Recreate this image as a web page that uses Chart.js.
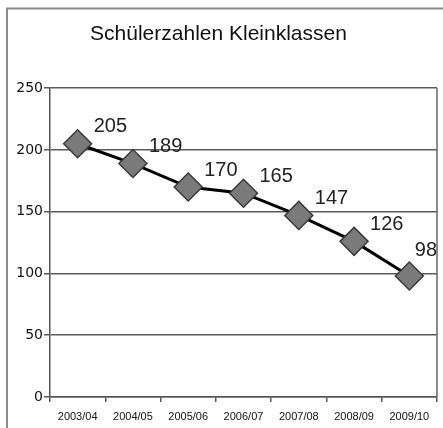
<!DOCTYPE html>
<html>
<head>
<meta charset="utf-8">
<script src="https://cdn.jsdelivr.net/npm/chart.js@4/dist/chart.umd.min.js"></script>
<style>
html,body{margin:0;padding:0;background:#fff;}
#wrap{width:443px;height:428px;position:relative;}
</style>
</head>
<body>
<div id="wrap"><canvas id="c" width="443" height="428"></canvas></div>
<script>
const titleText = "Schülerzahlen Kleinklassen";
const categories = ["2003/04","2004/05","2005/06","2006/07","2007/08","2008/09","2009/10"];
const pupils = [205,189,170,165,147,126,98];
const yTicks = [0,50,100,150,200,250];

const framePlugin = {
  id: 'frame',
  beforeDraw(chart){
    const ctx = chart.ctx;
    ctx.save();
    ctx.fillStyle = '#fff';
    ctx.fillRect(0,0,chart.width,chart.height);
    ctx.strokeStyle = '#8a8a8a';
    ctx.lineWidth = 2;
    ctx.beginPath();
    ctx.moveTo(7, chart.height);
    ctx.lineTo(7, 8.5);
    ctx.lineTo(chart.width, 8.5);
    ctx.stroke();
    ctx.restore();
  },
  afterDraw(chart){
    const ctx = chart.ctx, a = chart.chartArea;
    ctx.save();
    ctx.strokeStyle = '#666';
    ctx.lineWidth = 1.5;
    ctx.beginPath();
    ctx.moveTo(a.right, a.top);
    ctx.lineTo(a.right, a.bottom);
    ctx.stroke();
    ctx.restore();
  }
};

const labelPlugin = {
  id: 'valueLabels',
  afterDatasetsDraw(chart){
    const ctx = chart.ctx, a = chart.chartArea;
    const meta = chart.getDatasetMeta(0);
    const data = chart.data.datasets[0].data;
    ctx.save();
    ctx.font = '20px "Liberation Sans", Arial, sans-serif';
    ctx.fillStyle = '#222';
    ctx.textAlign = 'left';
    ctx.textBaseline = 'middle';
    meta.data.forEach((pt, i) => {
      const txt = String(data[i]);
      const w = ctx.measureText(txt).width;
      let x = pt.x + 16, y = pt.y - 17;
      if (x + w > a.right) { x = a.right - w; y -= 8; }
      ctx.fillText(txt, x, y);
    });
    ctx.restore();
  }
};

new Chart(document.getElementById('c'), {
  type: 'line',
  data: {
    labels: categories,
    datasets: [{
      data: pupils,
      borderColor: '#000',
      borderWidth: 3,
      tension: 0,
      pointStyle: 'rectRot',
      pointRadius: 14,
      pointBackgroundColor: '#7a7a7a',
      pointBorderColor: '#3a3a3a',
      pointBorderWidth: 1.5
    }]
  },
  options: {
    responsive: false,
    animation: false,
    layout: { autoPadding: false, padding: { left: 0, right: 6, top: 0, bottom: 0 } },
    plugins: {
      legend: { display: false },
      tooltip: { enabled: false },
      title: {
        display: true,
        text: titleText,
        color: '#111',
        font: { family: '"Liberation Sans", Arial, sans-serif', size: 21, weight: 'normal', lineHeight: 1.2 },
        padding: { top: 22, bottom: 41 }
      }
    },
    scales: {
      x: {
        offset: true,
        grid: { display: true, offset: true, drawOnChartArea: false, drawTicks: true, tickLength: 5, color: '#555', lineWidth: 1.5 },
        border: { display: true, color: '#555', width: 1.5 },
        ticks: { color: '#111', padding: 8, maxRotation: 0, autoSkip: false,
          font: { family: '"Liberation Sans", Arial, sans-serif', size: 11 } },
        afterFit(s){ s.height = 31; s.paddingLeft = 0; s.paddingRight = 0; }
      },
      y: {
        min: 0, max: 250,
        afterBuildTicks(s){ s.ticks = yTicks.map(v => ({ value: v })); },
        grid: { color: '#5a5a5a', lineWidth: 1.5, tickLength: 6, drawTicks: true },
        border: { display: true, color: '#555', width: 1.5 },
        ticks: { color: '#111', padding: 1,
          font: { family: '"DejaVu Sans", sans-serif', size: 14 } },
        afterFit(s){ s.width = 50; }
      }
    }
  },
  plugins: [framePlugin, labelPlugin]
});
</script>
</body>
</html>
